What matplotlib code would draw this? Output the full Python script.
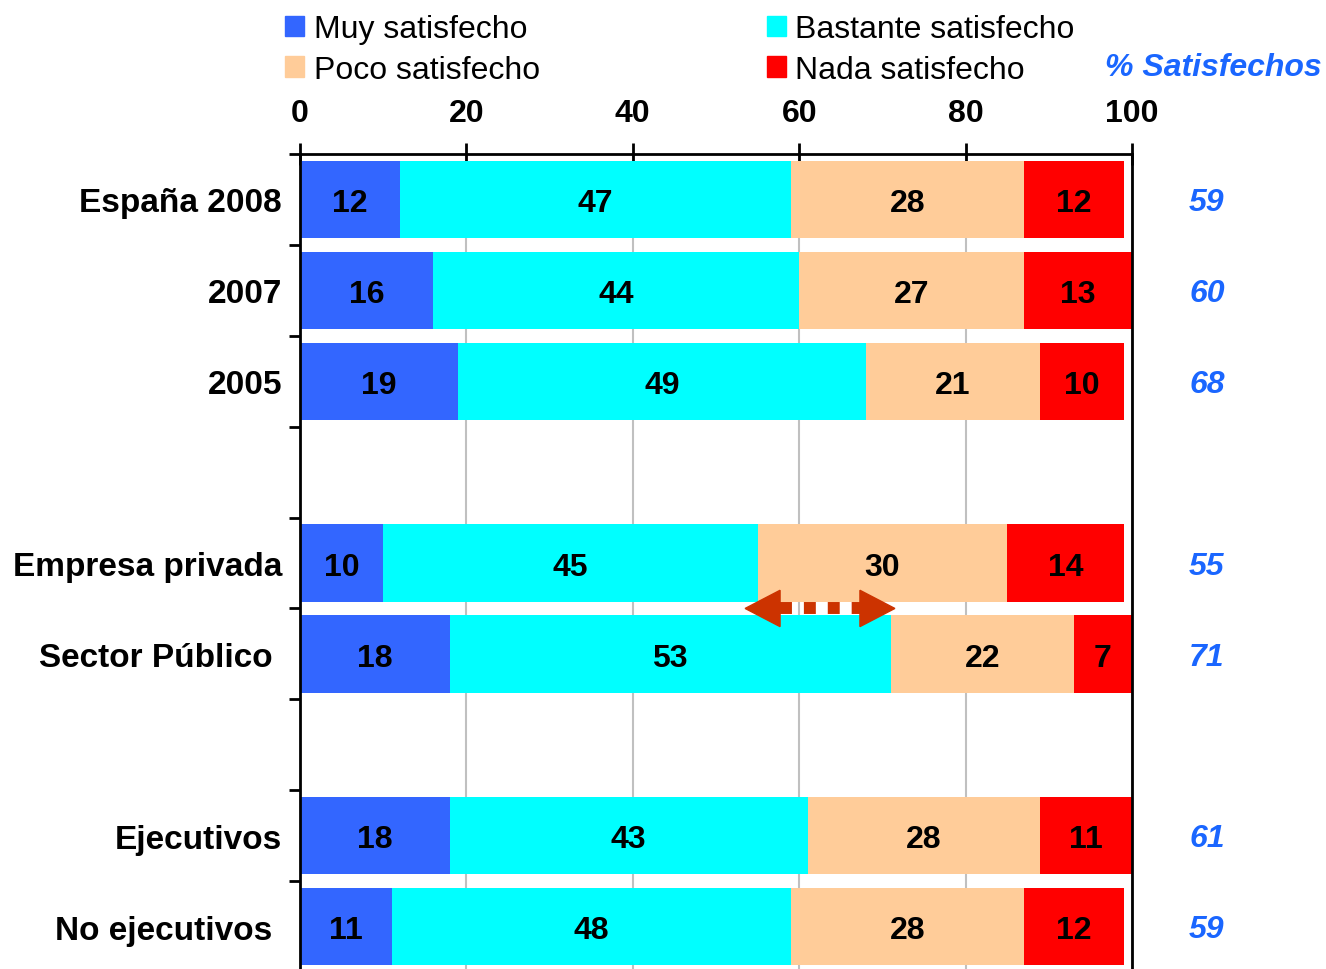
import matplotlib
matplotlib.use('Agg')
import matplotlib.pyplot as plt
from matplotlib.patches import Patch, Polygon
import numpy as np

plt.rcParams['font.family'] = ['Liberation Sans', 'DejaVu Sans']

# categories ("" = empty spacer row)
categories = ["España 2008", "2007", "2005", "",
              "Empresa privada", "Sector Público ", "",
              "Ejecutivos", "No ejecutivos "]
series_names = ["Muy satisfecho", "Bastante satisfecho",
                "Poco satisfecho", "Nada satisfecho"]
muy = [12, 16, 19, 10, 18, 18, 11]
bastante = [47, 44, 49, 45, 53, 43, 48]
poco = [28, 27, 21, 30, 22, 28, 28]
nada = [12, 13, 10, 14, 7, 11, 12]
satisfechos = [59, 60, 68, 55, 71, 61, 59]
xticks = [0, 20, 40, 60, 80, 100]

colors = ['#3366FF', '#00FFFF', '#FFCC99', '#FF0000']
blue_txt = '#1A66FF'
arrow_col = '#CC3300'

W, H = 1326, 970
fig = plt.figure(figsize=(W / 100, H / 100), dpi=100)
ax = fig.add_axes([300 / W, -0.0031, 832 / W, 0.8433])

ypos = [i for i, c in enumerate(categories) if c]
labels = [c for c in categories if c]
values = np.array([muy, bastante, poco, nada])

# stacked bars with centred value labels
left = np.zeros(len(ypos))
for vals, col in zip(values, colors):
    ax.barh(ypos, vals, left=left, height=0.85, color=col, zorder=2)
    for y, l, v in zip(ypos, left, vals):
        ax.text(l + v / 2, y + 0.04, str(v), ha='center', va='center',
                fontsize=23, fontweight='bold', zorder=3)
    left = left + vals

# % satisfechos column
for y, s in zip(ypos, satisfechos):
    ax.text(109, y + 0.03, str(s), ha='center', va='center', fontsize=23,
            fontweight='bold', fontstyle='italic', color=blue_txt, clip_on=False)
fig.text(1322 / W, 1 - 68 / H, '% Satisfechos', ha='right', va='center',
         fontsize=23, fontweight='bold', fontstyle='italic', color=blue_txt)

# double arrow between Empresa privada and Sector Público
ya = 4.5
hh = 0.2
ax.add_patch(Polygon([[53.5, ya], [57.7, ya - hh], [57.7, ya + hh]],
                     closed=True, color=arrow_col, zorder=4, clip_on=False))
ax.add_patch(Polygon([[71.5, ya], [67.3, ya - hh], [67.3, ya + hh]],
                     closed=True, color=arrow_col, zorder=4, clip_on=False))
ax.plot([57.7, 67.3], [ya, ya], color=arrow_col, lw=8.6,
        linestyle=(0, (1, 1)), solid_capstyle='butt', dash_capstyle='butt', zorder=4)

ax.set_xlim(0, 100)
ax.set_ylim(8.5, -0.5)
ax.xaxis.tick_top()
ax.set_xticks(xticks)
ax.set_xticklabels([str(t) for t in xticks], fontsize=23, fontweight='bold')
ax.tick_params(axis='x', direction='inout', length=16, width=2, pad=11)
ax.grid(axis='x', color='#C0C0C0', lw=1.5, zorder=0)

ax.set_yticks(ypos)
ax.set_yticklabels(labels, fontsize=24, fontweight='bold')
ax.set_yticks(np.arange(-0.5, 9, 1), minor=True)
ax.tick_params(axis='y', which='major', length=0, pad=13)
ax.tick_params(axis='y', which='minor', length=8, width=2, direction='out')

for s in ax.spines.values():
    s.set_linewidth(2)
ax.spines['bottom'].set_visible(False)

handles = [Patch(color=c) for c in colors]
order = [0, 2, 1, 3]
fig.legend([handles[i] for i in order], [series_names[i] for i in order],
           ncol=2, loc='upper left', bbox_to_anchor=(285 / W, 1 - 15 / H),
           frameon=False, fontsize=23, handlelength=0.6, handleheight=0.6,
           handletextpad=0.3, columnspacing=7.1, labelspacing=0.34,
           borderpad=0, borderaxespad=0)

fig.savefig('out.png', dpi=100)
